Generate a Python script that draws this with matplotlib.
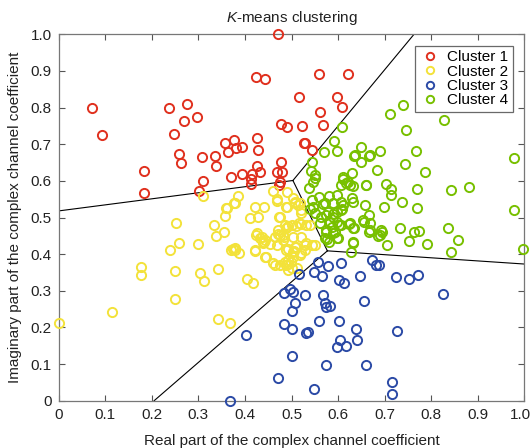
import matplotlib
matplotlib.use("Agg")
import matplotlib.pyplot as plt
from matplotlib.transforms import ScaledTranslation

plt.rcParams['font.family'] = ['Liberation Sans', 'DejaVu Sans']
plt.rcParams['mathtext.fontset'] = 'custom'
plt.rcParams['mathtext.rm'] = 'Liberation Sans'
plt.rcParams['mathtext.it'] = 'Liberation Sans:italic'

# ---- data ----
c1 = [(0.471,1.0),(0.424,0.883),(0.443,0.877),(0.516,0.828),(0.071,0.799),(0.237,0.800),(0.276,0.810),
      (0.297,0.775),(0.270,0.763),(0.092,0.724),(0.247,0.729),(0.478,0.755),(0.491,0.746),(0.523,0.750),
      (0.426,0.716),(0.377,0.712),(0.357,0.704),(0.393,0.693),(0.363,0.680),(0.380,0.690),(0.427,0.683),
      (0.527,0.702),(0.258,0.674),(0.263,0.649),(0.308,0.664),(0.336,0.669),(0.338,0.641),(0.478,0.651),
      (0.426,0.641),(0.184,0.626),(0.371,0.611),(0.393,0.620),(0.416,0.620),(0.433,0.623),(0.414,0.605),
      (0.414,0.592),(0.468,0.624),(0.476,0.598),(0.473,0.589),(0.310,0.599),(0.301,0.571),(0.184,0.568),
      (0.559,0.892),(0.621,0.893),(0.597,0.830),(0.609,0.802),(0.562,0.789),(0.568,0.752),(0.530,0.704),
      (0.545,0.685),(0.480,0.625)]
c2 = [(0.0,0.213),(0.115,0.241),(0.177,0.365),(0.177,0.342),(0.249,0.278),(0.250,0.355),(0.240,0.412),
      (0.259,0.430),(0.252,0.485),(0.299,0.427),(0.303,0.348),(0.311,0.327),(0.342,0.360),(0.342,0.223),
      (0.367,0.211),(0.333,0.479),(0.338,0.450),(0.356,0.461),(0.358,0.504),(0.360,0.527),(0.378,0.540),
      (0.374,0.413),(0.379,0.411),(0.388,0.402),(0.404,0.331),(0.417,0.322),(0.422,0.409),(0.444,0.391),
      (0.465,0.371),(0.410,0.498),(0.428,0.501),(0.421,0.528),(0.441,0.528),(0.423,0.453),(0.433,0.445),
      (0.441,0.434),(0.453,0.428),(0.473,0.502),(0.468,0.545),(0.488,0.530),(0.493,0.478),(0.500,0.479),
      (0.509,0.478),(0.516,0.484),(0.521,0.481),(0.471,0.466),(0.476,0.453),(0.484,0.448),(0.493,0.413),
      (0.505,0.409),(0.510,0.419),(0.521,0.402),(0.493,0.373),(0.498,0.378),(0.493,0.357),(0.511,0.361),
      (0.521,0.511),(0.507,0.539),(0.518,0.539),(0.309,0.558),(0.385,0.559),(0.377,0.540),(0.361,0.527),
      (0.461,0.571),(0.491,0.569),(0.468,0.550),(0.503,0.554),(0.508,0.543),(0.514,0.534),(0.491,0.530),
      (0.521,0.520),(0.475,0.502),(0.532,0.480),(0.539,0.480),(0.489,0.470),(0.471,0.456),(0.425,0.457),
      (0.436,0.448),(0.443,0.439),(0.439,0.430),(0.464,0.448),(0.482,0.452),(0.482,0.439),(0.468,0.425),
      (0.503,0.448),(0.521,0.448),(0.543,0.425),(0.550,0.425),(0.529,0.425),(0.489,0.411),(0.507,0.420),
      (0.503,0.407),(0.532,0.430),(0.529,0.411),(0.378,0.416),(0.371,0.411),(0.421,0.411),(0.446,0.393),
      (0.461,0.375),(0.475,0.370),(0.493,0.384),(0.503,0.393),(0.518,0.398),(0.489,0.370),(0.500,0.361),
      (0.486,0.480),(0.486,0.379)]
c3 = [(0.556,0.379),(0.579,0.368),(0.607,0.376),(0.672,0.384),(0.682,0.370),(0.688,0.370),(0.549,0.352),
      (0.565,0.339),(0.516,0.345),(0.647,0.341),(0.725,0.337),(0.752,0.332),(0.771,0.343),(0.601,0.329),
      (0.612,0.320),(0.497,0.306),(0.483,0.293),(0.503,0.297),(0.528,0.288),(0.567,0.288),(0.571,0.268),
      (0.575,0.257),(0.582,0.259),(0.825,0.292),(0.655,0.273),(0.507,0.268),(0.500,0.246),(0.484,0.210),
      (0.501,0.197),(0.559,0.218),(0.602,0.218),(0.532,0.184),(0.535,0.187),(0.639,0.195),(0.726,0.189),
      (0.640,0.166),(0.604,0.165),(0.618,0.150),(0.597,0.147),(0.501,0.121),(0.574,0.098),(0.659,0.097),
      (0.472,0.063),(0.549,0.031),(0.715,0.052),(0.715,0.019),(0.402,0.179),(0.367,0.0)]
c4 = [(0.740,0.807),(0.712,0.783),(0.827,0.767),(0.746,0.739),(0.608,0.746),(0.591,0.710),(0.569,0.679),
      (0.597,0.682),(0.650,0.693),(0.635,0.667),(0.667,0.669),(0.691,0.682),(0.650,0.652),(0.767,0.681),
      (0.743,0.645),(0.544,0.652),(0.541,0.627),(0.684,0.630),(0.786,0.624),(0.977,0.662),(0.551,0.607),
      (0.611,0.605),(0.629,0.621),(0.618,0.593),(0.607,0.590),(0.625,0.589),(0.632,0.587),(0.659,0.588),
      (0.702,0.591),(0.713,0.579),(0.713,0.561),(0.769,0.579),(0.842,0.574),(0.882,0.583),(0.538,0.580),
      (0.559,0.557),(0.580,0.560),(0.597,0.561),(0.544,0.548),(0.568,0.537),(0.589,0.540),(0.607,0.543),
      (0.629,0.553),(0.657,0.533),(0.699,0.530),(0.737,0.541),(0.770,0.526),(0.978,0.521),(0.539,0.523),
      (0.550,0.511),(0.574,0.506),(0.589,0.509),(0.609,0.523),(0.667,0.508),(0.582,0.489),(0.602,0.480),
      (0.624,0.481),(0.635,0.470),(0.655,0.489),(0.573,0.461),(0.594,0.461),(0.667,0.460),(0.695,0.460),
      (0.686,0.450),(0.732,0.471),(0.764,0.461),(0.773,0.462),(0.836,0.470),(0.857,0.439),(0.843,0.407),
      (0.790,0.427),(0.752,0.435),(0.704,0.424),(0.631,0.433),(0.627,0.407),(0.600,0.445),(0.577,0.441),
      (0.580,0.434),(0.998,0.413),(0.636,0.671),(0.668,0.671),(0.550,0.616),(0.546,0.598),(0.621,0.598),
      (0.611,0.611),(0.661,0.589),(0.546,0.530),(0.571,0.539),(0.611,0.534),(0.632,0.543),(0.579,0.516),
      (0.597,0.516),(0.607,0.521),(0.589,0.502),(0.597,0.489),(0.607,0.480),(0.586,0.475),(0.575,0.466),
      (0.625,0.484),(0.632,0.470),(0.654,0.493),(0.668,0.484),(0.668,0.466),(0.693,0.466),(0.690,0.452),
      (0.571,0.443),(0.597,0.443),(0.589,0.457),(0.632,0.430),(0.561,0.484),(0.564,0.502)]

clusters = [c1, c2, c3, c4]
labels = ["Cluster 1", "Cluster 2", "Cluster 3", "Cluster 4"]
colors = ["#e0301e", "#f3e23a", "#2b4aa6", "#78c000"]

# Voronoi boundary segments (data coordinates)
boundary_segments = [
    [(0.0, 0.518), (0.503, 0.601)],
    [(0.503, 0.601), (0.763, 1.0)],
    [(0.503, 0.601), (0.577, 0.409)],
    [(0.577, 0.409), (1.0, 0.373)],
    [(0.577, 0.409), (0.205, 0.0)],
]

ticks = [0, 0.1, 0.2, 0.3, 0.4, 0.5, 0.6, 0.7, 0.8, 0.9, 1.0]
ticklabels = ["0", "0.1", "0.2", "0.3", "0.4", "0.5", "0.6", "0.7", "0.8", "0.9", "1.0"]

# ---- figure ----
fig = plt.figure(figsize=(5.31, 4.48), dpi=100)
ax = fig.add_axes([0.1105, 0.1056, 0.877, 0.8178])

for pts, lab, col in zip(clusters, labels, colors):
    xs = [p[0] for p in pts]
    ys = [p[1] for p in pts]
    ax.plot(xs, ys, linestyle='none', marker='o', markersize=6.6,
            markerfacecolor='none', markeredgecolor=col, markeredgewidth=1.4,
            label=lab, clip_on=False, zorder=3)

for seg in boundary_segments:
    ax.plot([seg[0][0], seg[1][0]], [seg[0][1], seg[1][1]], color='black', lw=0.8, zorder=2)

ax.set_xlim(0, 1)
ax.set_ylim(0, 1)
ax.set_xticks(ticks)
ax.set_xticklabels(ticklabels)
ax.set_yticks(ticks)
ax.set_yticklabels(ticklabels)
ax.tick_params(direction='in', length=4, width=0.8, color='#555555', labelsize=11,
               labelcolor='#222222', top=True, right=True)
ax.tick_params(axis='x', pad=5)
ax.tick_params(axis='y', pad=5)
# keep last x tick label inside the figure
last = ax.get_xticklabels()[-1]
last.set_transform(last.get_transform() + ScaledTranslation(-4/100, 0, fig.dpi_scale_trans))
for s in ax.spines.values():
    s.set_color('#777777')
    s.set_linewidth(0.9)

ax.set_title(r"$\mathit{K}$-means clustering", fontsize=11, color='#222222', pad=9)
ax.set_xlabel("Real part of the complex channel coefficient", fontsize=11, color='#222222', labelpad=9)
ax.set_ylabel("Imaginary part of the complex channel coefficient", fontsize=11, color='#222222', labelpad=6)

leg = ax.legend(loc='upper right', fontsize=11, frameon=True, fancybox=False, markerscale=0.8,
                handlelength=1.3, handletextpad=0.5, borderpad=0.3, labelspacing=0.02,
                borderaxespad=0.75, edgecolor='#444444')
leg.get_frame().set_linewidth(0.9)

fig.savefig("out.png", dpi=100)
